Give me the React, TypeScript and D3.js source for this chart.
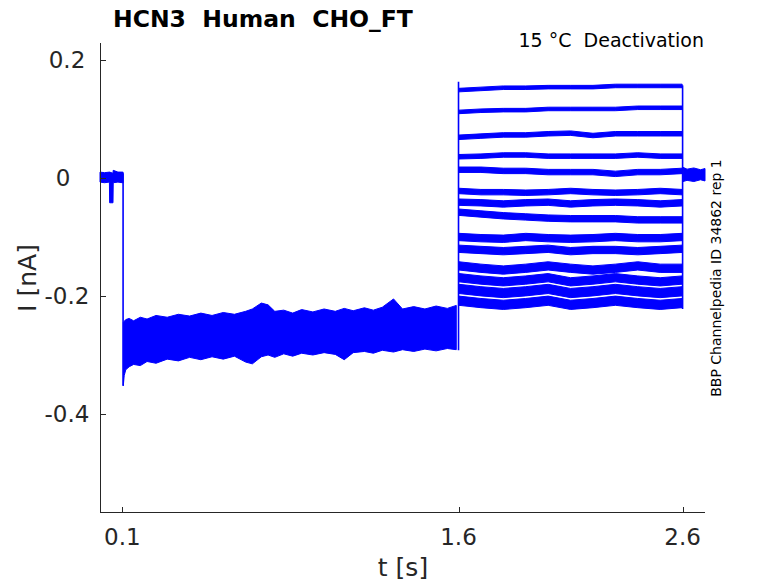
import React from "react";
import * as d3 from "d3";

// ---------------- data ----------------
const xTicks = [0.1, 1.6, 2.6];
const yTicks = [-0.4, -0.2, 0, 0.2];

// holding segment before the first step
const preTimes = [0.0, 0.02, 0.042, 0.043, 0.058, 0.059, 0.08, 0.1, 0.103];
const preUpper = [0.010, 0.009, 0.010, 0.010, 0.008, 0.013, 0.010, 0.010, 0.010];
const preLower = [-0.007, -0.008, -0.007, -0.042, -0.042, -0.008, -0.007, -0.008, -0.008];

// first step (0.1 s – 1.6 s): all sweeps overlap into one band
const step1Times = [0.104, 0.108, 0.115, 0.13, 0.15, 0.18, 0.21, 0.25, 0.3, 0.35, 0.4, 0.45, 0.5, 0.55, 0.6, 0.65, 0.68, 0.72, 0.75, 0.78, 0.82, 0.86, 0.9, 0.95, 1.0, 1.05, 1.09, 1.13, 1.18, 1.22, 1.26, 1.31, 1.35, 1.4, 1.45, 1.5, 1.55, 1.59];
const step1Upper = [-0.245, -0.243, -0.240, -0.238, -0.242, -0.236, -0.239, -0.233, -0.236, -0.231, -0.234, -0.229, -0.233, -0.228, -0.231, -0.226, -0.222, -0.212, -0.215, -0.226, -0.224, -0.229, -0.223, -0.227, -0.222, -0.226, -0.221, -0.225, -0.220, -0.224, -0.219, -0.205, -0.222, -0.218, -0.222, -0.217, -0.221, -0.216];
const step1Lower = [-0.352, -0.335, -0.325, -0.320, -0.316, -0.318, -0.311, -0.314, -0.307, -0.310, -0.304, -0.308, -0.303, -0.307, -0.302, -0.312, -0.315, -0.303, -0.300, -0.304, -0.298, -0.302, -0.297, -0.300, -0.296, -0.299, -0.308, -0.296, -0.294, -0.297, -0.292, -0.295, -0.291, -0.294, -0.290, -0.293, -0.289, -0.291];

// second step (1.6 s – 2.6 s): one sweep per test potential
const step2Times = [1.602, 1.7, 1.8, 1.9, 2.0, 2.1, 2.2, 2.3, 2.4, 2.5, 2.598];
const step2Levels = [
  [0.149, 0.151, 0.153, 0.153, 0.154, 0.154, 0.154, 0.156, 0.156, 0.156, 0.156],
  [0.112, 0.114, 0.115, 0.115, 0.117, 0.117, 0.117, 0.117, 0.119, 0.119, 0.119],
  [0.069, 0.071, 0.073, 0.073, 0.075, 0.076, 0.072, 0.075, 0.075, 0.075, 0.075],
  [0.036, 0.037, 0.039, 0.039, 0.037, 0.037, 0.037, 0.037, 0.039, 0.037, 0.037],
  [0.014, 0.014, 0.012, 0.012, 0.010, 0.010, 0.010, 0.007, 0.010, 0.010, 0.012],
  [-0.022, -0.024, -0.024, -0.025, -0.024, -0.022, -0.024, -0.025, -0.024, -0.022, -0.024],
  [-0.041, -0.042, -0.044, -0.042, -0.041, -0.044, -0.042, -0.041, -0.042, -0.044, -0.042],
  [-0.058, -0.061, -0.064, -0.066, -0.068, -0.069, -0.069, -0.069, -0.071, -0.071, -0.071],
  [-0.100, -0.102, -0.103, -0.100, -0.102, -0.103, -0.102, -0.100, -0.102, -0.102, -0.100],
  [-0.120, -0.122, -0.124, -0.122, -0.120, -0.124, -0.122, -0.122, -0.124, -0.122, -0.120],
  [-0.149, -0.153, -0.156, -0.153, -0.149, -0.153, -0.156, -0.153, -0.149, -0.153, -0.153],
  [-0.169, -0.173, -0.176, -0.173, -0.169, -0.176, -0.173, -0.169, -0.173, -0.176, -0.173],
  [-0.188, -0.192, -0.195, -0.192, -0.188, -0.195, -0.192, -0.188, -0.192, -0.195, -0.192],
  [-0.208, -0.212, -0.215, -0.212, -0.208, -0.215, -0.212, -0.208, -0.212, -0.215, -0.212],
];
const step2Noise = [0.0030, 0.0030, 0.0038, 0.0038, 0.0046, 0.0046, 0.0054, 0.0054, 0.0062, 0.0062, 0.0070, 0.0070, 0.0078, 0.0078];

// tail segment after 2.6 s
const tailTimes = [2.602, 2.62, 2.65, 2.68, 2.7];
const tailUpper = [0.018, 0.015, 0.017, 0.014, 0.016];
const tailLower = [-0.006, -0.004, -0.006, -0.003, -0.005];

// voltage-step transitions (vertical edges)
const edgeTimes = [0.103, 1.6, 2.6];
const edgeFrom = [0.008, -0.292, 0.157];
const edgeTo = [-0.352, 0.163, -0.222];

// ---------------- chart ----------------
const W = 778;
const H = 583;
const x = d3.scaleLinear().domain([0, 2.7]).range([100, 705]);
const y = d3.scaleLinear().domain([-0.5678, 0.2288]).range([513, 43]);

type Pt = { t: number; lo: number; hi: number };
const band = d3
  .area<Pt>()
  .x((d) => x(d.t))
  .y0((d) => y(d.lo))
  .y1((d) => y(d.hi))
  .curve(d3.curveLinear);

const zipBand = (ts: number[], hi: number[], lo: number[]): Pt[] =>
  ts.map((t, i) => ({ t, hi: hi[i], lo: lo[i] }));

const BLUE = "#0000ff";
const AX = "#262626";
const FONT = "DejaVu Sans, Verdana, sans-serif";
const PRE: React.CSSProperties = { whiteSpace: "pre" };

export default function App() {
  const bands: Pt[][] = [
    zipBand(preTimes, preUpper, preLower),
    zipBand(step1Times, step1Upper, step1Lower),
    zipBand(tailTimes, tailUpper, tailLower),
    ...step2Levels.map((lv, k) =>
      step2Times.map((t, i) => ({ t, hi: lv[i] + step2Noise[k], lo: lv[i] - step2Noise[k] }))
    ),
  ];
  const [x0, x1] = x.range();
  const [yb, yt] = y.range();
  return (
    <svg
      width={W}
      height={H}
      style={{ position: "absolute", left: 0, top: 0, background: "#fff" }}
      fontFamily={FONT}
    >
      <rect width={W} height={H} fill="#fff" />
      {/* traces */}
      <g>
        {bands.map((b, i) => (
          <path key={i} d={band(b) || ""} fill={BLUE} stroke={BLUE} strokeWidth={1} strokeLinejoin="round" />
        ))}
        {edgeTimes.map((t, i) => (
          <line key={i} x1={x(t)} x2={x(t)} y1={y(edgeFrom[i])} y2={y(edgeTo[i])} stroke={BLUE} strokeWidth={1.6} />
        ))}
      </g>
      {/* axes */}
      <g stroke={AX} strokeWidth={1} fill="none" shapeRendering="crispEdges">
        <line x1={x0 + 0.5} x2={x0 + 0.5} y1={yt} y2={yb} />
        <line x1={x0} x2={x1} y1={yb - 0.5} y2={yb - 0.5} />
        {yTicks.map((v) => (
          <line key={v} x1={x0} x2={x0 + 6} y1={Math.round(y(v)) + 0.5} y2={Math.round(y(v)) + 0.5} />
        ))}
        {xTicks.map((v) => (
          <line key={v} x1={Math.round(x(v)) + 0.5} x2={Math.round(x(v)) + 0.5} y1={yb} y2={yb - 6} />
        ))}
      </g>
      <g fill={AX} fontSize={23}>
        {yTicks.map((v) => (
          <text key={v} x={v === 0 ? 63 : 67} y={y(v) + 8.4} textAnchor="middle">
            {String(v)}
          </text>
        ))}
        {xTicks.map((v) => (
          <text key={v} x={x(v)} y={545} textAnchor="middle">
            {String(v)}
          </text>
        ))}
      </g>
      <text x={403} y={576} textAnchor="middle" fontSize={25} fill={AX}>
        t [s]
      </text>
      <text transform="translate(36,278) rotate(-90)" textAnchor="middle" fontSize={25} fill={AX}>
        I [nA]
      </text>
      <text x={113} y={27} fontSize={23.5} fontWeight="bold" fill="#000" style={PRE}>
        {"HCN3  Human  CHO_FT"}
      </text>
      <text x={704} y={47} fontSize={19} textAnchor="end" fill="#000" style={PRE}>
        {"15 °C  Deactivation"}
      </text>
      <text transform="translate(721,278) rotate(-90)" textAnchor="middle" fontSize={14} fill="#000">
        BBP Channelpedia ID 34862 rep 1
      </text>
    </svg>
  );
}
